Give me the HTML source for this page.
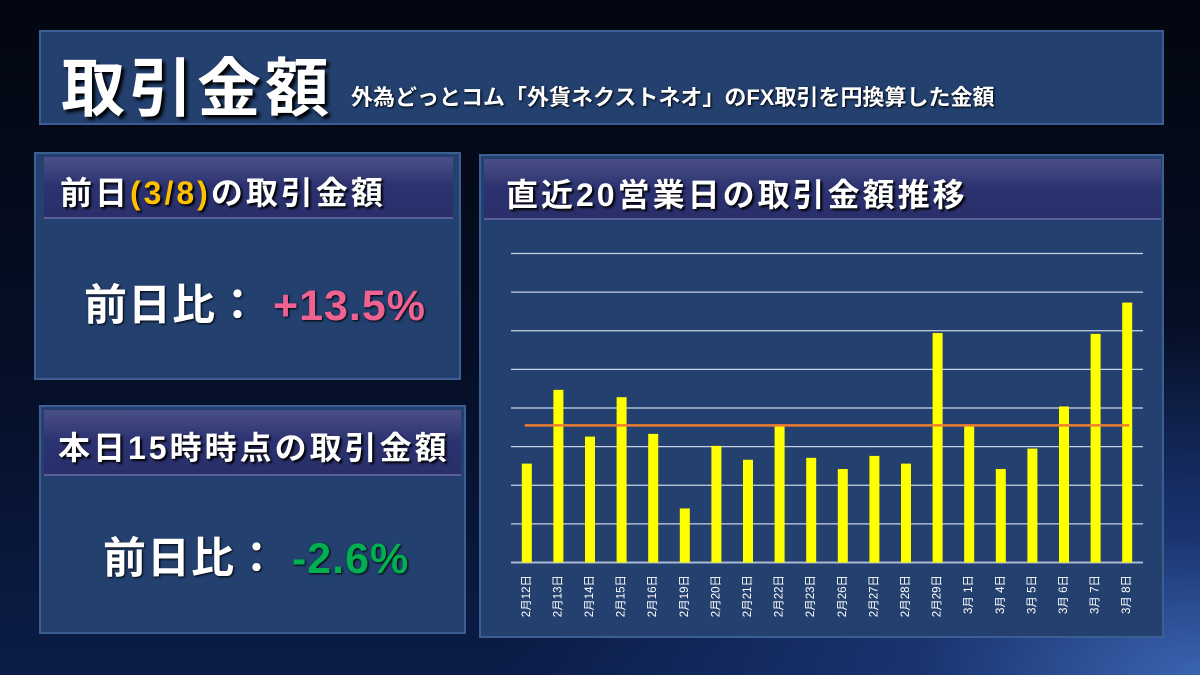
<!DOCTYPE html>
<html><head><meta charset="utf-8">
<style>
*{margin:0;padding:0;box-sizing:border-box}
body{width:1200px;height:675px;overflow:hidden;position:relative;font-family:"Liberation Sans","Noto Sans CJK JP",sans-serif;
background:radial-gradient(ellipse 700px 350px at 1200px 675px,#3a64b0 0%,#1a3470 40%,rgba(8,18,45,0) 100%),linear-gradient(180deg,#02060f 0%,#06102a 60%,#0b1d48 100%);}
.box{position:absolute;background:#23406f;border:2px solid #3b5f92;}
.hdr{position:absolute;background:linear-gradient(180deg,#4a4f86 0%,#2b3270 50%,#2a2f6a 100%);border-bottom:2px solid #5a5e9a;color:#fff;font-weight:bold;text-shadow:2px 2px 2px #000;white-space:nowrap}
.val{position:absolute;color:#fff;font-size:43px;font-weight:bold;text-shadow:1px 1px 2px #000;white-space:nowrap;letter-spacing:1px}
</style></head><body>
<div class="box" style="left:39px;top:30px;width:1125px;height:95px;background:#23406f;border-color:#3c5d94">
 <span style="position:absolute;left:20px;top:6px;font-size:64px;font-weight:bold;color:#fff;text-shadow:3px 3px 3px #000;letter-spacing:4px">取引金額</span>
 <span style="position:absolute;left:310px;top:48px;font-size:22px;font-weight:bold;color:#fff;text-shadow:1px 1px 2px #000">外為どっとコム「外貨ネクストネオ」のFX取引を円換算した金額</span>
</div>

<div class="box" style="left:34px;top:152px;width:427px;height:228px">
 <div class="hdr" style="left:8px;top:3px;width:409px;height:62px;font-size:32px;letter-spacing:3px;padding:11px 0 0 16px">前日<span style="color:#ffc000">(3/8)</span>の取引金額</div>
 <div class="val" style="left:48px;top:117px">前日比： <span style="color:#f06292">+13.5%</span></div>
</div>

<div class="box" style="left:39px;top:405px;width:427px;height:229px">
 <div class="hdr" style="left:3px;top:3px;width:417px;height:66px;font-size:32px;letter-spacing:3px;padding:13px 0 0 14px">本日15時時点の取引金額</div>
 <div class="val" style="left:62px;top:117px">前日比： <span style="color:#00b050">-2.6%</span></div>
</div>

<div class="box" style="left:479px;top:154px;width:685px;height:484px">
 <div class="hdr" style="left:3px;top:3px;width:677px;height:61px;font-size:32px;letter-spacing:3px;padding:11px 0 0 22px">直近20営業日の取引金額推移</div>
</div>

<svg id="chart" width="1200" height="675" style="position:absolute;left:0;top:0"></svg>
<script>
const categories=["2月12日","2月13日","2月14日","2月15日","2月16日","2月19日","2月20日","2月21日","2月22日","2月23日","2月26日","2月27日","2月28日","2月29日","3月 1日","3月 4日","3月 5日","3月 6日","3月 7日","3月 8日"];
const values=[2.56,4.47,3.26,4.28,3.33,1.40,3.02,2.66,3.52,2.71,2.42,2.76,2.56,5.94,3.52,2.42,2.95,4.04,5.92,6.73];
const averageValue=[3.55];
const gridTicks=[0,1,2,3,4,5,6,7,8];
const svg=document.getElementById('chart');
const NS='http://www.w3.org/2000/svg';
const x0=511,x1=1143,yBase=562.5,yTop=253.5,yMax=8;
const y=v=>yBase-(v/yMax)*(yBase-yTop);
const step=(x1-x0)/categories.length;
const xc=i=>x0+step*(i+0.5);
function mk(t,a){const e=document.createElementNS(NS,t);for(const k in a)e.setAttribute(k,a[k]);svg.appendChild(e);return e;}
gridTicks.forEach(t=>{
 const l=mk('line',{x1:x0,x2:x1,y1:y(t),y2:y(t),stroke:t===0?'#aab8d0':'#c8d2e4','stroke-width':t===0?2:1.2});
 
 
});
values.forEach((v,i)=>{
 const r=mk('rect',{x:xc(i)-5,y:y(v),width:10,height:yBase-y(v),fill:'#ffff00'});
 
 
 const cx=xc(i),cy=575;
 const t=mk('text',{x:cx,y:cy,fill:'#fff','font-size':11.5,'text-anchor':'end','dominant-baseline':'central',transform:`rotate(-90 ${cx} ${cy})`,'font-family':'"Liberation Sans","Noto Sans CJK JP",sans-serif'});
 t.textContent=categories[i];
 
 
});
const avg=mk('line',{x1:xc(0)-2,x2:xc(values.length-1)+2,y1:y(averageValue[0]),y2:y(averageValue[0]),stroke:'#ed7d31','stroke-width':2.5});


</script>
</body></html>
